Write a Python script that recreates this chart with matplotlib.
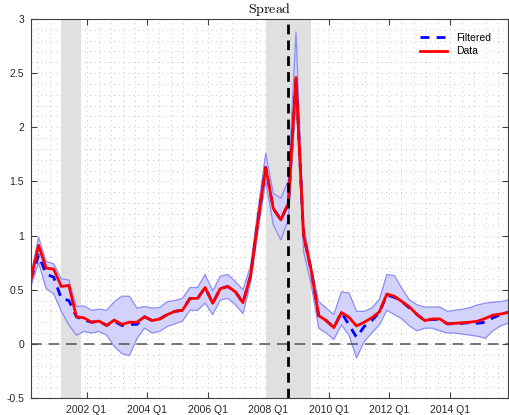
import numpy as np
import matplotlib
matplotlib.use("Agg")
import matplotlib.pyplot as plt
from matplotlib.ticker import FixedLocator, MultipleLocator

plt.rcParams['font.family'] = ['Liberation Sans', 'DejaVu Sans']
plt.rcParams['mathtext.fontset'] = 'cm'

# Quarterly sample 2000 Q1 - 2015 Q4, each observation dated in the quarter's last month
start_year = 2000
n_obs = 64

# Observed spread (percentage points)
data = [0.60, 0.91, 0.70, 0.69, 0.53, 0.54, 0.25, 0.24, 0.20, 0.21,
        0.17, 0.22, 0.18, 0.20, 0.20, 0.25, 0.215, 0.23, 0.27, 0.30,
        0.31, 0.42, 0.42, 0.52, 0.375, 0.51, 0.53, 0.48, 0.38, 0.63,
        1.15, 1.63, 1.25, 1.145, 1.30, 2.46, 1.00, 0.68, 0.26, 0.215,
        0.15, 0.29, 0.245, 0.165, 0.20, 0.24, 0.295, 0.46, 0.44, 0.39,
        0.34, 0.27, 0.215, 0.23, 0.23, 0.185, 0.19, 0.195, 0.20, 0.21,
        0.235, 0.265, 0.275, 0.29]

# Filtered (smoothed) estimate
filtered = [0.60, 0.82, 0.645, 0.615, 0.42, 0.40, 0.25, 0.22, 0.20, 0.21,
            0.17, 0.21, 0.17, 0.18, 0.18, 0.25, 0.215, 0.23, 0.27, 0.30,
            0.31, 0.42, 0.42, 0.52, 0.375, 0.51, 0.53, 0.48, 0.38, 0.63,
            1.15, 1.63, 1.25, 1.145, 1.30, 2.46, 1.00, 0.68, 0.26, 0.215,
            0.15, 0.29, 0.175, 0.06, 0.16, 0.215, 0.29, 0.45, 0.43, 0.39,
            0.33, 0.27, 0.215, 0.225, 0.225, 0.185, 0.185, 0.19, 0.195, 0.19,
            0.20, 0.24, 0.27, 0.29]

# Error band around the filtered estimate
band_upper = [0.64, 0.985, 0.76, 0.74, 0.60, 0.59, 0.345, 0.35, 0.31, 0.32,
              0.31, 0.39, 0.44, 0.44, 0.33, 0.345, 0.33, 0.335, 0.39, 0.40,
              0.42, 0.52, 0.52, 0.64, 0.49, 0.625, 0.64, 0.575, 0.50, 0.72,
              1.25, 1.76, 1.39, 1.345, 1.51, 2.88, 1.10, 0.72, 0.39, 0.33,
              0.27, 0.48, 0.47, 0.30, 0.30, 0.33, 0.41, 0.64, 0.63, 0.51,
              0.405, 0.36, 0.34, 0.34, 0.34, 0.30, 0.31, 0.32, 0.335, 0.36,
              0.375, 0.385, 0.39, 0.405]
band_lower = [0.53, 0.75, 0.51, 0.46, 0.30, 0.175, 0.08, 0.115, 0.10, 0.115,
              0.08, -0.025, -0.09, -0.11, 0.05, 0.145, 0.10, 0.115, 0.16, 0.185,
              0.21, 0.31, 0.31, 0.375, 0.27, 0.405, 0.42, 0.36, 0.28, 0.56,
              1.05, 1.50, 1.10, 0.96, 1.15, 2.30, 0.85, 0.55, 0.145, 0.10,
              0.04, 0.175, 0.08, -0.13, 0.02, 0.10, 0.175, 0.31, 0.27, 0.23,
              0.165, 0.12, 0.145, 0.145, 0.12, 0.10, 0.10, 0.09, 0.08, 0.07,
              0.05, 0.12, 0.165, 0.19]

# NBER recessions (fractional years) and the Lehman collapse marker
recessions = [(2001 + 2 / 12, 2001 + 10 / 12), (2007 + 11 / 12, 2009 + 5 / 12)]
event_date = 2008 + 8 / 12

tick_years = [2002, 2004, 2006, 2008, 2010, 2012, 2014]
tick_labels = [f"{y} Q1" for y in tick_years]
y_ticks = [-0.5, 0, 0.5, 1, 1.5, 2, 2.5, 3]
y_tick_labels = ["-0.5", "0", "0.5", "1", "1.5", "2", "2.5", "3"]

k = np.arange(n_obs)
t = start_year + k // 4 + (3 * (k % 4) + 2) / 12.0

fig = plt.figure(figsize=(5.09, 4.15), dpi=100)
ax = fig.add_axes([31 / 509, 17 / 415, 477 / 509, 379 / 415])

axis_col = '#404040'
ax.set_xlim(t[0], t[-1])
ax.set_ylim(-0.5, 3)

# dotted grid at major and minor positions
ax.xaxis.set_minor_locator(MultipleLocator(0.4))
ax.yaxis.set_minor_locator(MultipleLocator(0.1))
ax.grid(True, which='both', linestyle=(0, (1, 4)), color='#c4c4c4', linewidth=0.7)
ax.set_axisbelow(True)

for a, b in recessions:
    ax.axvspan(a, b, color='#e0e0e0', zorder=1, linewidth=0)

ax.fill_between(t, band_lower, band_upper, facecolor='#d2d2fb', edgecolor='none', zorder=2)
ax.plot(t, band_upper, color='#8c8cf5', linewidth=0.9, zorder=2.1)
ax.plot(t, band_lower, color='#8c8cf5', linewidth=0.9, zorder=2.1)

ax.axhline(0, color='#505050', linewidth=1.1, linestyle=(0, (7, 4.5)), zorder=2.5)

ax.plot(t, filtered, color='#0000ff', linewidth=2.0, linestyle=(0, (3.2, 2.6)),
        zorder=3, label='Filtered')
ax.plot(t, data, color='#ff0000', linewidth=2.0, zorder=4, label='Data')

ax.axvline(event_date, color='black', linewidth=2.0, linestyle=(0, (3.5, 2.2)), zorder=5)

ax.xaxis.set_major_locator(FixedLocator(tick_years))
ax.set_xticklabels(tick_labels)
ax.yaxis.set_major_locator(FixedLocator(y_ticks))
ax.set_yticklabels(y_tick_labels)
ax.tick_params(axis='both', which='major', direction='in', length=4, width=0.8,
               top=True, right=True, colors=axis_col, labelsize=7.5,
               labelcolor='#262626', pad=5)
ax.tick_params(axis='both', which='minor', length=0)
for s in ax.spines.values():
    s.set_color(axis_col)
    s.set_linewidth(0.8)

ax.set_title(r'$\mathrm{Spread}$', fontsize=10, pad=4)

ax.legend(loc='upper left', bbox_to_anchor=(0.8155, 0.964), frameon=False,
          fontsize=7.5, handlelength=2.6, handletextpad=0.9, labelspacing=0.35,
          borderpad=0, borderaxespad=0)

fig.savefig('out.png', dpi=100)
